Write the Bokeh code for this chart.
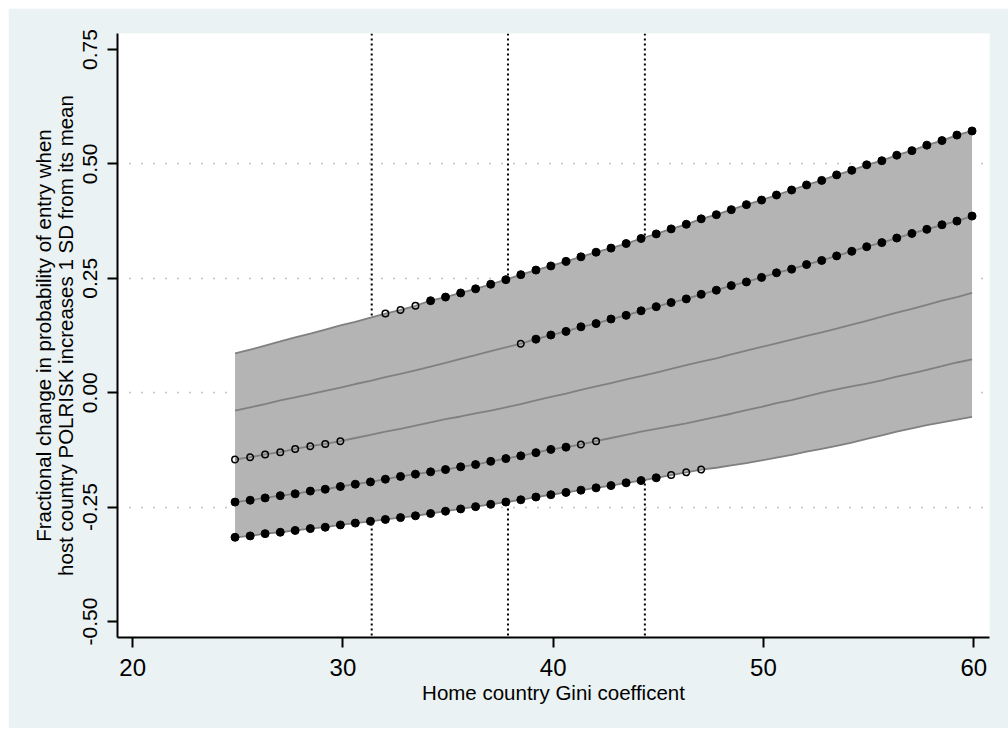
import math
from bokeh.plotting import figure
from bokeh.models import FixedTicker, NumeralTickFormatter, Span, Range1d
from bokeh.embed import file_html
from bokeh.resources import INLINE

# ---- data -------------------------------------------------------------
gini = [24.87, 25.59, 26.30, 27.02, 27.73, 28.45, 29.16, 29.88, 30.59, 31.31,
        32.02, 32.74, 33.45, 34.17, 34.88, 35.60, 36.31, 37.03, 37.75, 38.46,
        39.18, 39.89, 40.61, 41.32, 42.04, 42.75, 43.47, 44.18, 44.90, 45.61,
        46.33, 47.04, 47.76, 48.47, 49.19, 49.91, 50.62, 51.34, 52.05, 52.77,
        53.48, 54.20, 54.91, 55.63, 56.34, 57.06, 57.77, 58.49, 59.20, 59.92]

s_top = [0.086, 0.094, 0.103, 0.112, 0.121, 0.129, 0.138, 0.147, 0.155, 0.164,
         0.173, 0.181, 0.190, 0.201, 0.209, 0.218, 0.227, 0.237, 0.247, 0.258,
         0.268, 0.277, 0.287, 0.297, 0.307, 0.316, 0.326, 0.337, 0.347, 0.358,
         0.368, 0.380, 0.389, 0.400, 0.411, 0.421, 0.432, 0.443, 0.454, 0.464,
         0.476, 0.486, 0.498, 0.507, 0.519, 0.529, 0.541, 0.551, 0.563, 0.572]

s_upper = [-0.039, -0.032, -0.025, -0.017, -0.010, -0.003, 0.004, 0.011, 0.019, 0.026,
           0.034, 0.041, 0.049, 0.057, 0.065, 0.074, 0.082, 0.091, 0.099, 0.107,
           0.117, 0.126, 0.134, 0.144, 0.151, 0.161, 0.169, 0.179, 0.188, 0.197,
           0.205, 0.215, 0.224, 0.234, 0.242, 0.252, 0.262, 0.270, 0.280, 0.289,
           0.299, 0.309, 0.319, 0.328, 0.338, 0.348, 0.357, 0.367, 0.375, 0.386]

s_mid = [-0.146, -0.141, -0.135, -0.130, -0.123, -0.117, -0.112, -0.106, -0.099, -0.092,
         -0.085, -0.079, -0.072, -0.065, -0.058, -0.052, -0.045, -0.039, -0.032, -0.025,
         -0.017, -0.009, -0.002, 0.006, 0.014, 0.021, 0.029, 0.036, 0.044, 0.052,
         0.060, 0.068, 0.075, 0.084, 0.092, 0.100, 0.108, 0.116, 0.124, 0.132,
         0.140, 0.149, 0.157, 0.166, 0.175, 0.183, 0.192, 0.201, 0.209, 0.218]

s_lower = [-0.239, -0.235, -0.230, -0.225, -0.221, -0.215, -0.211, -0.205, -0.200, -0.195,
           -0.189, -0.183, -0.178, -0.173, -0.168, -0.162, -0.157, -0.150, -0.144, -0.138,
           -0.131, -0.124, -0.119, -0.113, -0.106, -0.099, -0.092, -0.085, -0.079, -0.073,
           -0.067, -0.060, -0.053, -0.046, -0.038, -0.031, -0.023, -0.016, -0.008, 0.000,
           0.007, 0.014, 0.020, 0.027, 0.035, 0.042, 0.050, 0.058, 0.066, 0.073]

s_bottom = [-0.316, -0.313, -0.308, -0.305, -0.301, -0.297, -0.294, -0.289, -0.285, -0.281,
            -0.277, -0.273, -0.269, -0.264, -0.259, -0.254, -0.249, -0.244, -0.239, -0.234,
            -0.228, -0.223, -0.218, -0.213, -0.208, -0.203, -0.197, -0.192, -0.186, -0.180,
            -0.174, -0.168, -0.164, -0.159, -0.154, -0.148, -0.142, -0.136, -0.129, -0.123,
            -0.116, -0.109, -0.101, -0.093, -0.085, -0.078, -0.071, -0.065, -0.059, -0.053]

# marker status per point: '#' significant (filled), 'o' weakly (hollow), '.' none
m_top    = "..........ooo####### ########## ########## ##########".replace(" ", "")
m_upper  = "..........  .........o ########## ########## ##########".replace(" ", "")
m_mid    = "oooooooo.. .......... .......... .......... ..........".replace(" ", "")
m_lower  = "########## ########## ###oo..... .......... ..........".replace(" ", "")
m_bottom = "########## ########## #########o oo........ ..........".replace(" ", "")

ref_lines = [31.37, 37.85, 44.36]

x_ticks = [20, 30, 40, 50, 60]
y_ticks = [-0.5, -0.25, 0.0, 0.25, 0.5, 0.75]
y_grid = [-0.25, 0.0, 0.25, 0.5]

x_title = "Home country Gini coefficent"
y_title = "Fractional change in probability of entry when\nhost country POLRISK increases 1 SD from its mean"

series = [(s_top, m_top), (s_upper, m_upper), (s_mid, m_mid),
          (s_lower, m_lower), (s_bottom, m_bottom)]
for s, m in series:
    assert len(s) == len(gini) and len(m) == len(gini)

# ---- figure -----------------------------------------------------------
FONT = "Liberation Sans"
p = figure(width=1000, height=720, output_backend="svg", toolbar_location=None,
           x_range=Range1d(19.28, 60.75), y_range=Range1d(-0.535, 0.785),
           min_border_left=109, min_border_right=19, min_border_top=25,
           min_border_bottom=91)
p.margin = (8, 0, 0, 8)
p.background_fill_color = "white"
p.border_fill_color = "#EAF2F3"
p.outline_line_color = None

p.xgrid.visible = False
p.ygrid.ticker = FixedTicker(ticks=y_grid)
p.ygrid.grid_line_color = "#8a8a8a"
p.ygrid.grid_line_width = 1.3
p.ygrid.grid_line_dash = "1 11"

for ax in (p.xaxis[0], p.yaxis[0]):
    ax.axis_line_color = "black"
    ax.axis_line_width = 2
    ax.major_tick_line_color = "black"
    ax.major_tick_line_width = 2
    ax.major_tick_out = 10
    ax.major_tick_in = 0
    ax.minor_tick_line_color = None
    ax.major_label_text_font = FONT
    ax.major_label_text_color = "black"
    ax.axis_label_text_font = FONT
    ax.axis_label_text_font_style = "normal"
    ax.axis_label_text_color = "black"

p.xaxis.ticker = FixedTicker(ticks=x_ticks)
p.xaxis.major_label_text_font_size = "24px"
p.xaxis.major_label_standoff = 11
p.xaxis.axis_label = x_title
p.xaxis.axis_label_text_font_size = "20.5px"
p.xaxis.axis_label_standoff = 2

p.yaxis.ticker = FixedTicker(ticks=y_ticks)
p.yaxis.formatter = NumeralTickFormatter(format="0.00")
p.yaxis.major_label_orientation = "vertical"
p.yaxis.major_label_text_font_size = "21px"
p.yaxis.major_label_standoff = 10
p.yaxis.axis_label = y_title
p.yaxis.axis_label_text_font_size = "20.5px"
p.yaxis.axis_label_text_line_height = 0.95
p.yaxis.axis_label_standoff = 4

for xv in ref_lines:
    p.add_layout(Span(location=xv, dimension="height", line_color="black",
                      line_width=2, line_dash="2 3", level="underlay"))

# band
p.varea(x=gini, y1=s_bottom, y2=s_top, fill_color="#B4B4B4")

for s, m in series:
    p.line(gini, s, line_color="#808080", line_width=1.8)

for s, m in series:
    fx = [x for x, c in zip(gini, m) if c == "#"]
    fy = [y for y, c in zip(s, m) if c == "#"]
    hx = [x for x, c in zip(gini, m) if c == "o"]
    hy = [y for y, c in zip(s, m) if c == "o"]
    if fx:
        p.scatter(fx, fy, size=8, marker="circle", fill_color="black", line_color="black")
    if hx:
        p.scatter(hx, hy, size=6.5, marker="circle", fill_color=None,
                  line_color="black", line_width=1.5)

open("out.html", "w").write(file_html(p, INLINE))
